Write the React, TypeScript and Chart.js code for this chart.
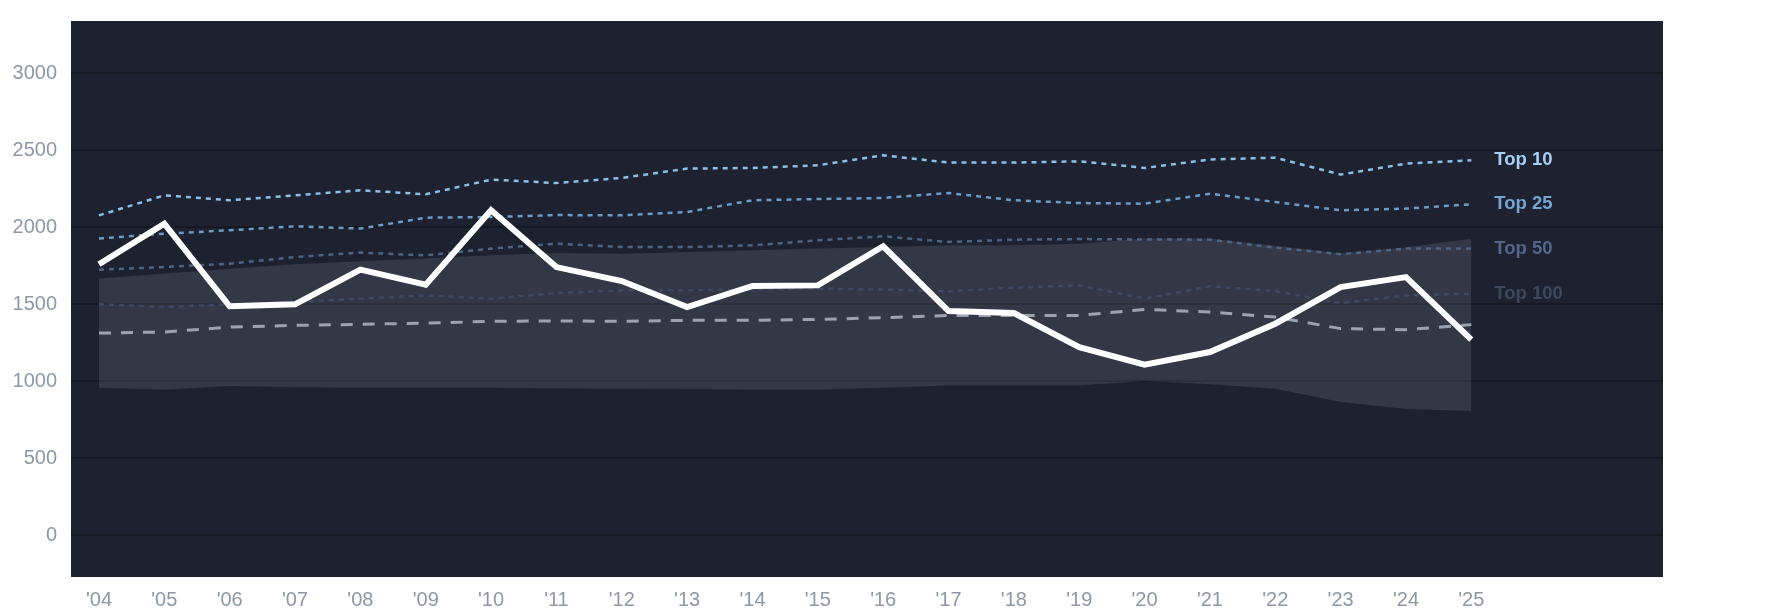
import React, { useEffect, useRef } from 'react';
import { Chart, registerables } from 'chart.js';

Chart.register(...registerables);

const years = [
  2004, 2005, 2006, 2007, 2008, 2009, 2010, 2011, 2012, 2013, 2014,
  2015, 2016, 2017, 2018, 2019, 2020, 2021, 2022, 2023, 2024, 2025,
];

const mainSeries = [1759, 2023, 1486, 1499, 1724, 1627, 2110, 1741, 1650, 1481, 1618, 1622, 1876, 1455, 1442, 1221, 1107, 1189, 1373, 1611, 1676, 1269];
const top10 = [2077, 2207, 2175, 2207, 2240, 2214, 2309, 2287, 2320, 2381, 2385, 2402, 2467, 2420, 2420, 2428, 2385, 2440, 2452, 2342, 2413, 2435];
const top25 = [1926, 1958, 1980, 2006, 1991, 2062, 2066, 2079, 2077, 2099, 2175, 2183, 2190, 2222, 2175, 2157, 2153, 2218, 2164, 2110, 2121, 2149];
const top50 = [1724, 1741, 1763, 1806, 1835, 1817, 1861, 1893, 1871, 1871, 1882, 1915, 1941, 1904, 1919, 1923, 1920, 1919, 1867, 1824, 1861, 1862];
const top100 = [1499, 1481, 1499, 1514, 1536, 1557, 1536, 1572, 1590, 1590, 1595, 1601, 1595, 1583, 1607, 1622, 1536, 1616, 1585, 1507, 1557, 1568];
const median = [1312, 1319, 1351, 1362, 1369, 1377, 1388, 1391, 1388, 1395, 1395, 1401, 1412, 1427, 1427, 1427, 1466, 1449, 1416, 1341, 1334, 1367];
const bandHigh = [1666, 1700, 1730, 1760, 1778, 1796, 1817, 1832, 1828, 1839, 1850, 1861, 1871, 1882, 1882, 1893, 1926, 1926, 1880, 1830, 1870, 1925];
const bandLow = [957, 944, 968, 960, 957, 957, 957, 952, 950, 948, 944, 944, 957, 972, 972, 972, 1000, 979, 950, 864, 818, 805];

const yTicks = [0, 500, 1000, 1500, 2000, 2500, 3000];
const tierLabels = ['Top 10', 'Top 25', 'Top 50', 'Top 100'];

const pts = (vals: number[]) => vals.map((v, i) => ({ x: years[i], y: v }));

const plotBackground = {
  id: 'plotBackground',
  beforeDraw(chart: any) {
    const { ctx, chartArea } = chart;
    ctx.save();
    ctx.fillStyle = '#1d2130';
    ctx.fillRect(chartArea.left, chartArea.top, chartArea.right - chartArea.left, chartArea.bottom - chartArea.top);
    ctx.restore();
  },
};

// names at the end of the tier lines
const endLabels = {
  id: 'endLabels',
  afterDatasetsDraw(chart: any) {
    const { ctx } = chart;
    ctx.save();
    ctx.font = 'bold 18.5px "Liberation Sans", Arial, sans-serif';
    ctx.textAlign = 'left';
    ctx.textBaseline = 'middle';
    chart.data.datasets.forEach((ds: any, i: number) => {
      if (!ds.tierLabel) return;
      const meta = chart.getDatasetMeta(i);
      const last = meta.data[meta.data.length - 1];
      ctx.fillStyle = ds.labelColor;
      ctx.fillText(ds.tierLabel, last.x + 23, last.y);
    });
    ctx.restore();
  },
};

const tierLine = (label: string, vals: number[], color: string, labelColor: string, order: number) => ({
  label,
  tierLabel: label,
  labelColor,
  data: pts(vals),
  borderColor: color,
  borderWidth: 2.5,
  borderDash: [5, 5],
  pointRadius: 0,
  fill: false,
  order,
});

const App: React.FC = () => {
  const canvasRef = useRef<HTMLCanvasElement | null>(null);
  const chartRef = useRef<Chart | null>(null);

  useEffect(() => {
    if (!canvasRef.current) return;
    if (chartRef.current) chartRef.current.destroy();

    Chart.defaults.font.family = '"Liberation Sans", Arial, sans-serif';

    chartRef.current = new Chart(canvasRef.current, {
      type: 'line',
      data: {
        datasets: [
          {
            label: 'main',
            data: pts(mainSeries),
            borderColor: '#ffffff',
            borderWidth: 6,
            borderJoinStyle: 'miter',
            pointRadius: 0,
            fill: false,
            order: 0,
          },
          tierLine(tierLabels[0], top10, '#8bbfe6', '#a6d0f2', 1),
          tierLine(tierLabels[1], top25, '#6b9bc6', '#74a5d0', 2),
          tierLine(tierLabels[2], top50, '#4d6384', '#52678a', 3),
          tierLine(tierLabels[3], top100, '#3e4a64', '#3d485e', 4),
          {
            label: 'median',
            data: pts(median),
            borderColor: '#9ca3af',
            borderWidth: 3,
            borderDash: [12, 10],
            pointRadius: 0,
            fill: false,
            order: 5,
          },
          {
            label: 'high',
            data: pts(bandHigh),
            borderWidth: 0,
            borderColor: 'rgba(0,0,0,0)',
            backgroundColor: 'rgba(255,255,255,0.1)',
            pointRadius: 0,
            fill: { target: 7 },
            order: 6,
          },
          {
            label: 'low',
            data: pts(bandLow),
            borderWidth: 0,
            borderColor: 'rgba(0,0,0,0)',
            pointRadius: 0,
            fill: false,
            order: 7,
          },
        ] as any,
      },
      options: {
        animation: false,
        responsive: true,
        maintainAspectRatio: false,
        layout: { padding: { left: 0, top: 21, right: 122, bottom: 0 } },
        plugins: {
          legend: { display: false },
          tooltip: { enabled: false },
        },
        scales: {
          x: {
            type: 'linear',
            min: 2003.572,
            max: 2027.933,
            grid: { display: false },
            border: { display: false },
            afterBuildTicks: (axis: any) => {
              axis.ticks = years.map((v) => ({ value: v }));
            },
            afterFit: (axis: any) => {
              axis.height = 37;
              axis.paddingLeft = 0;
              axis.paddingRight = 0;
            },
            ticks: {
              color: '#8f97a6',
              font: { size: 20 },
              padding: 3,
              maxRotation: 0,
              autoSkip: false,
              callback: (v: any) => "'" + String(v).slice(2),
            },
          },
          y: {
            min: -273,
            max: 3340,
            grid: { color: '#161923', lineWidth: 2, drawTicks: false },
            border: { display: false },
            afterBuildTicks: (axis: any) => {
              axis.ticks = yTicks.map((v) => ({ value: v }));
            },
            afterFit: (axis: any) => {
              axis.width = 71;
              axis.paddingTop = 0;
              axis.paddingBottom = 0;
            },
            ticks: {
              color: '#8f97a6',
              font: { size: 20 },
              padding: 14,
              callback: (v: any) => String(v),
            },
          },
        },
      },
      plugins: [plotBackground, endLabels],
    });

    return () => {
      chartRef.current?.destroy();
      chartRef.current = null;
    };
  }, []);

  return (
    <div style={{ position: 'absolute', left: 0, top: 0, width: 1785, height: 614, background: '#ffffff' }}>
      <canvas ref={canvasRef}></canvas>
    </div>
  );
};

export default App;
